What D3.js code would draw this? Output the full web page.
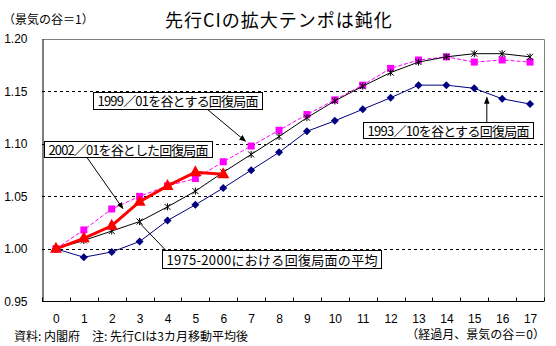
<!DOCTYPE html>
<html>
<head>
<meta charset="utf-8">
<script src="https://cdn.jsdelivr.net/npm/d3@7"></script>
<style>
  body { margin: 0; background: #fff; }
  svg { display: block; font-family: "Noto Sans CJK JP", "Noto Sans", sans-serif; }
</style>
</head>
<body>
<div id="chart"></div>
<script>
// データ
const months = d3.range(0, 18); // 経過月 0..17
const yTicks = [0.95, 1.00, 1.05, 1.10, 1.15, 1.20];

const avg7500 = [1.000, 1.008, 1.017, 1.026, 1.040, 1.055, 1.073, 1.090, 1.107, 1.125,
                 1.141, 1.155, 1.168, 1.178, 1.183, 1.186, 1.186, 1.183];
const rec9901 = [1.000, 1.018, 1.038, 1.050, 1.060, 1.067, 1.083, 1.098, 1.113, 1.128,
                 1.142, 1.156, 1.172, 1.180, 1.183, 1.178, 1.180, 1.178];
const rec9310 = [1.000, 0.992, 0.997, 1.007, 1.027, 1.042, 1.058, 1.075, 1.092, 1.112,
                 1.122, 1.133, 1.144, 1.156, 1.156, 1.153, 1.143, 1.138];
const rec0201 = [1.000, 1.010, 1.022, 1.045, 1.060, 1.073, 1.071];

const svg = d3.select("#chart").append("svg")
    .attr("width", 556)
    .attr("height", 346);

const margin = { top: 39, right: 12, bottom: 44, left: 42 };
const W = 556, H = 346;

// x: 経過月（カテゴリ中心）
const x = d3.scaleLinear()
    .domain([-0.5, 17.5])
    .range([margin.left, W - margin.right]);

const y = d3.scaleLinear()
    .domain([0.95, 1.20])
    .range([H - margin.bottom - 0.7, margin.top]);

// 補助線（点線）
svg.append("g")
    .selectAll("line")
    .data([1.00, 1.05, 1.10, 1.15])
    .enter()
    .append("line")
    .attr("x1", x(-0.5)).attr("x2", x(17.5))
    .attr("y1", d => Math.round(y(d)) + 0.5)
    .attr("y2", d => Math.round(y(d)) + 0.5)
    .attr("stroke", "#000")
    .attr("stroke-dasharray", "3,3");

// 枠（上と右はグレー）
svg.append("path")
    .attr("d", `M${x(-0.5)},${Math.round(y(1.2)) + 0.5}H${Math.round(x(17.5)) + 0.5}V${Math.round(y(0.95))}`)
    .attr("fill", "none")
    .attr("stroke", "#808080");

// y軸
svg.append("g")
    .attr("transform", `translate(${Math.round(x(-0.5)) + 0.5},0)`)
    .call(d3.axisLeft(y).tickValues(yTicks).tickFormat(d3.format(".2f")).tickSize(0).tickPadding(15))
    .call(g => g.select(".domain").attr("stroke", "#000"))
    .call(g => g.selectAll("text").style("font-size", "12px").attr("fill", "#000")
        .style("font-family", "Arial, 'Liberation Sans', sans-serif"));

// x軸
const xAxis = svg.append("g")
    .attr("transform", `translate(0,${Math.round(y(0.95)) + 0.5})`)
    .call(d3.axisBottom(x).tickValues(months).tickFormat(d => d).tickSize(0).tickPadding(13))
    .call(g => g.select(".domain").remove())
    .call(g => g.selectAll("text").style("font-size", "12px").attr("fill", "#000")
        .style("font-family", "Arial, 'Liberation Sans', sans-serif"));

xAxis.append("line")
    .attr("x1", x(-0.5)).attr("x2", x(17.5))
    .attr("stroke", "#000");

xAxis.selectAll("line.tk")
    .data(d3.range(0, 19))
    .enter()
    .append("line")
    .attr("class", "tk")
    .attr("x1", d => Math.round(x(d - 0.5)) + 0.5)
    .attr("x2", d => Math.round(x(d - 0.5)) + 0.5)
    .attr("y1", 0).attr("y2", -4)
    .attr("stroke", "#000");

// 線を引く関数
function drawSeries(data, color, width, dash) {
    const line = d3.line()
        .x((d, i) => x(i))
        .y(d => y(d));
    svg.append("path")
        .datum(data)
        .attr("fill", "none")
        .attr("stroke", color)
        .attr("stroke-width", width)
        .attr("stroke-dasharray", dash)
        .attr("d", line);
    return svg.append("g").selectAll("g").data(data).enter().append("g")
        .attr("transform", (d, i) => `translate(${x(i)},${y(d)})`);
}

// 1999/01 （ピンク・点線・四角）
drawSeries(rec9901, "#ff00ff", 1, "4,2")
    .append("rect")
    .attr("x", -3.5).attr("y", -3.5)
    .attr("width", 7).attr("height", 7)
    .attr("fill", "#ff00ff");

// 1975-2000 平均 （黒・星）
drawSeries(avg7500, "#000", 1, null)
    .append("path")
    .attr("d", "M-3,-3L3,3M-3,3L3,-3M0,-3.5V3.5")
    .attr("stroke", "#000")
    .attr("stroke-width", 1);

// 1993/10 （紺・ひし形）
drawSeries(rec9310, "#000080", 1, null)
    .append("path")
    .attr("d", "M0,-4L4,0L0,4L-4,0Z")
    .attr("fill", "#000080");

// 2002/01 （赤・太線・三角）
drawSeries(rec0201, "#ff0000", 3, null)
    .append("path")
    .attr("d", "M0,-7L6,4L-6,4Z")
    .attr("fill", "#ff0000");

// 矢印
svg.append("defs").append("marker")
    .attr("id", "arr")
    .attr("viewBox", "0 0 10 10")
    .attr("refX", 9).attr("refY", 5)
    .attr("markerWidth", 7).attr("markerHeight", 7)
    .attr("orient", "auto")
    .append("path")
    .attr("d", "M0,1L10,5L0,9Z")
    .attr("fill", "#000");

// 注釈（位置はデータ座標）
const notes = [
    { text: "1999／01を谷とする回復局面", bx: 1.34, by: 1.1495, bw: 169, bh: 17,
      from: [5.27, 1.1365], to: [6.8, 1.1025], arrow: true },
    { text: "2002／01を谷とした回復局面", bx: -0.42, by: 1.1031, bw: 168, bh: 16,
      from: [1.04, 1.0898], to: [2.4, 1.0384], arrow: true },
    { text: "1993／10を谷とする回復局面", bx: 11.0, by: 1.121, bw: 170, bh: 16,
      from: [15.45, 1.121], to: [15.45, 1.1444], arrow: true },
    { text: "1975-2000における回復局面の平均", bx: 3.82, by: 0.9989, bw: 219, bh: 18,
      from: [3.95, 0.9983], to: [3.0, 1.0246], arrow: false }
];

notes.forEach(n => {
    svg.append("line")
        .attr("x1", x(n.from[0])).attr("y1", y(n.from[1]))
        .attr("x2", x(n.to[0])).attr("y2", y(n.to[1]))
        .attr("stroke", "#000")
        .attr("marker-end", n.arrow ? "url(#arr)" : null);
    const bx = Math.round(x(n.bx)) + 0.5, by = Math.round(y(n.by)) + 0.5;
    svg.append("rect")
        .attr("x", bx).attr("y", by)
        .attr("width", n.bw).attr("height", n.bh)
        .attr("fill", "#fff")
        .attr("stroke", "#000");
    svg.append("text")
        .attr("x", bx + 4)
        .attr("y", by + n.bh / 2 + 5)
        .attr("textLength", n.bw - 8)
        .attr("lengthAdjust", "spacing")
        .style("font-size", "13px")
        .text(n.text);
});

// タイトル
svg.append("text")
    .attr("x", 279)
    .attr("y", 27)
    .attr("text-anchor", "middle")
    .style("font-size", "18px")
    .style("letter-spacing", "1px")
    .text("先行CIの拡大テンポは鈍化");

// 軸ラベル
svg.append("text")
    .attr("x", 3)
    .attr("y", 24)
    .style("font-size", "12px")
    .text("（景気の谷＝1）");

svg.append("text")
    .attr("x", 545)
    .attr("y", 339)
    .attr("text-anchor", "end")
    .style("font-size", "12px")
    .text("（経過月、景気の谷＝0）");

// 出所
svg.append("text")
    .attr("x", 14)
    .attr("y", 341)
    .style("font-size", "12px")
    .text("資料: 内閣府　注: 先行CIは3カ月移動平均後");
</script>
</body>
</html>
